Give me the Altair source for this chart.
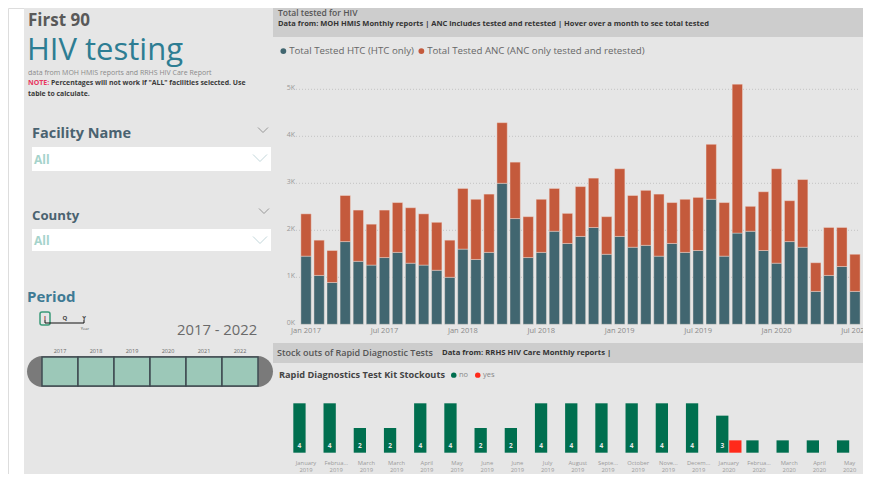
import altair as alt
import pandas as pd

FONT = "Open Sans"

# ---------------- data ----------------
months = ["2017-01", "2017-02", "2017-03", "2017-04", "2017-05", "2017-06", "2017-07", "2017-08",
          "2017-09", "2017-10", "2017-11", "2017-12", "2018-01", "2018-02", "2018-03", "2018-04",
          "2018-05", "2018-06", "2018-07", "2018-08", "2018-09", "2018-10", "2018-11", "2018-12",
          "2019-01", "2019-02", "2019-03", "2019-04", "2019-05", "2019-06", "2019-07", "2019-08",
          "2019-09", "2019-10", "2019-11", "2019-12", "2020-01", "2020-02", "2020-03", "2020-04",
          "2020-05", "2020-06", "2020-07"]
htc_tested = [1450, 1040, 890, 1760, 1340, 1260, 1420, 1530, 1300, 1260, 1150, 1000,
              1600, 1380, 1530, 3000, 2250, 1420, 1530, 1980, 1720, 1870, 2060, 1490,
              1870, 1640, 1680, 1450, 1720, 1530, 1570, 2660, 1450, 1940, 1980, 1570,
              1300, 1760, 1640, 700, 1040, 1230, 700]
anc_tested = [900, 750, 680, 980, 1090, 870, 1010, 1060, 1180, 1090, 1020, 790,
              1290, 1280, 1240, 1290, 1200, 870, 1130, 910, 640, 1060, 1050, 800,
              1440, 1100, 1170, 1320, 870, 1130, 1130, 1170, 1140, 3170, 530, 1250,
              2010, 870, 1440, 610, 1020, 830, 790]
series_names = ["Total Tested HTC (HTC only)", "Total Tested ANC (ANC only tested and retested)"]
y_ticks = [0, 1000, 2000, 3000, 4000, 5000]
y_tick_labels = ["0K", "1K", "2K", "3K", "4K", "5K"]
x_tick_months = ["2017-01", "2017-07", "2018-01", "2018-07", "2019-01", "2019-07", "2020-01", "2020-07"]
x_tick_labels = ["Jan 2017", "Jul 2017", "Jan 2018", "Jul 2018", "Jan 2019", "Jul 2019", "Jan 2020", "Jul 2020"]

stock_keys = ["Jan 2019", "Feb 2019", "Mar 2019 a", "Mar 2019 b", "Apr 2019", "May 2019",
              "Jun 2019 a", "Jun 2019 b", "Jul 2019", "Aug 2019", "Sep 2019", "Oct 2019",
              "Nov 2019", "Dec 2019", "Jan 2020", "Feb 2020", "Mar 2020", "Apr 2020", "May 2020"]
stock_line1 = ["January", "Februa...", "March", "March", "April", "May", "June", "June", "July",
               "August", "Septe...", "October", "Nove...", "Decem...", "January", "Februa...",
               "March", "April", "May"]
stock_line2 = ["2019", "2019", "2019", "2019", "2019", "2019", "2019", "2019", "2019", "2019",
               "2019", "2019", "2019", "2019", "2020", "2020", "2020", "2020", "2020"]
stock_no = [4, 4, 2, 2, 4, 4, 2, 2, 4, 4, 4, 4, 4, 4, 3, 1, 1, 1, 1]
stock_yes_keys = ["Jan 2020"]
stock_yes = [1]
stock_flags = ["no", "yes"]

period_years = ["2017", "2018", "2019", "2020", "2021", "2022"]

# ---------------- colours ----------------
TEAL = "#416670"
ORANGE = "#c45a3c"
GREEN = "#006f4f"
RED = "#ff2a1a"
BG = "#e6e6e6"
BAND = "#cdcdcd"

W, H = 855, 466


def P(v):
    return v - 8


one = pd.DataFrame({"k": [0]})


def txt(x, y, s, size, color, weight="normal", align="left", baseline="middle"):
    return alt.Chart(one).mark_text(
        text=s, fontSize=size, color=color, fontWeight=weight, align=align,
        baseline=baseline, font=FONT
    ).encode(x=alt.value(P(x)), y=alt.value(P(y)))


def box(x1, y1, x2, y2, fill, **kw):
    return alt.Chart(one).mark_rect(fill=fill, **kw).encode(
        x=alt.value(max(P(x1), 0)), x2=alt.value(min(P(x2), W)),
        y=alt.value(max(P(y1), 0)), y2=alt.value(min(P(y2), H)))


def chevron(x, y, w, color):
    return alt.Chart(one).mark_point(
        shape="M-1,-0.5L0,0.5L1,-0.5", filled=False, stroke=color, strokeWidth=1,
        size=w * w
    ).encode(x=alt.value(P(x)), y=alt.value(P(y)))


def hline(x1, x2, y, color, width=1):
    return alt.Chart(one).mark_rule(color=color, strokeWidth=width).encode(
        x=alt.value(P(x1)), x2=alt.value(P(x2)), y=alt.value(P(y)))


def vline(x, y1, y2, color, width=1):
    return alt.Chart(one).mark_rule(color=color, strokeWidth=width).encode(
        x=alt.value(P(x)), y=alt.value(P(y1)), y2=alt.value(P(y2)))


# ---------------- backgrounds ----------------
layers = [
    box(24, 0, 900, 600, BG),
    box(273, 0, 900, 37, BAND),
    box(273, 343, 900, 363, BAND),
]

# ---------------- left panel ----------------
layers += [
    txt(28, 21, "First 90", 17, "#595959", "bold"),
    txt(27, 50.5, "HIV testing", 31, "#2d7d93"),
    txt(28, 72.5, "data from MOH HMIS reports and RRHS HIV Care Report", 7, "#8a8a8a"),
    txt(28, 82.5, "NOTE:", 7, "#e8365f", "bold"),
    txt(51, 82.5, "Percentages will not work if \"ALL\" facilities selected. Use", 6.9, "#3a3a3a", "bold"),
    txt(28, 94, "table to calculate.", 6.9, "#3a3a3a", "bold"),
    txt(32, 134, "Facility Name", 14.5, "#4a6270", "bold"),
    chevron(263, 130, 10, "#777777"),
    box(32, 147, 271, 171, "#ffffff"),
    txt(34, 160, "All", 12, "#a5d3cb", "bold"),
    chevron(260, 158, 14, "#a9c6cc"),
    txt(32, 216, "County", 13.2, "#4a6270", "bold"),
    chevron(264, 211, 10, "#777777"),
    box(32, 229, 271, 251, "#ffffff"),
    txt(34, 241, "All", 12, "#a5d3cb", "bold"),
    chevron(260, 240, 14, "#a9c6cc"),
    txt(27, 297, "Period", 15, "#3e7a94", "bold"),
    box(40, 312, 50, 325, "#ffffff", fillOpacity=0, stroke="#3a9a78", strokeWidth=1.5, cornerRadius=2),
    txt(45, 318, "I", 6, "#8a3b3b", "bold", "center"),
    txt(65, 318, "Q", 6, "#444444", "bold", "center"),
    txt(84, 318, "Y", 6, "#444444", "bold", "center"),
    hline(45, 84, 323, "#111111"),
    vline(45, 320, 323, "#111111"),
    vline(84, 320, 323, "#111111"),
    txt(85, 329, "Year", 4, "#555555", "normal", "center"),
    txt(177, 331, "2017 - 2022", 14.8, "#6a6a6a"),
    box(27, 356, 273, 387, "#7a7a7a", cornerRadius=15.5),
]

df_years = pd.DataFrame({"year": period_years})
yx = alt.Scale(domain=period_years, range=[P(42), P(258)], paddingInner=0, paddingOuter=0)
year_boxes = alt.Chart(df_years).mark_bar(
    fill="#9cc8b8", stroke="#3f4b51", strokeWidth=1.5
).encode(x=alt.X("year:N", scale=yx, axis=None), y=alt.value(P(357)), y2=alt.value(P(386)))
year_text = alt.Chart(df_years).mark_text(fontSize=5.5, color="#666666", font=FONT).encode(
    x=alt.X("year:N", scale=yx, axis=None), y=alt.value(P(351)), text="year:N")
layers.append(alt.layer(year_boxes, year_text))

# ---------------- right panel : headers ----------------
layers += [
    txt(278, 12.5, "Total tested for HIV", 8.5, "#555555", 600),
    txt(278, 24, "Data from: MOH HMIS Monthly reports | ANC includes tested and retested | Hover over a month to see total tested",
        7.5, "#333333", "bold"),
    txt(277, 353, "Stock outs of Rapid Diagnostic Tests", 9, "#555555", 600),
    txt(442, 353, "Data from: RRHS HIV Care Monthly reports  |", 7.7, "#333333", "bold"),
]

# ---------------- main stacked bar chart ----------------
rows = []
for m, h, a in zip(months, htc_tested, anc_tested):
    rows.append({"month": m, "series": series_names[0], "value": h, "sidx": 0})
    rows.append({"month": m, "series": series_names[1], "value": a, "sidx": 1})
df_bars = pd.DataFrame(rows)
df_yt = pd.DataFrame({"v": y_ticks, "lab": y_tick_labels})
df_xt = pd.DataFrame({"month": x_tick_months, "lab": x_tick_labels})

xs = alt.Scale(domain=months, range=[P(299.5), P(861.5)], paddingInner=0.21, paddingOuter=0.105)
ys = alt.Scale(domain=[0, 5000], range=[P(324.3), P(89.3)], nice=False, zero=True)

grid = alt.Chart(df_yt).transform_filter("datum.v > 0").mark_rule(
    strokeDash=[1, 2], color="#c4c4c4", strokeWidth=1
).encode(y=alt.Y("v:Q", scale=ys, axis=None), x=alt.value(P(296)), x2=alt.value(P(858)))
bars = alt.Chart(df_bars).mark_bar(stroke="#f3e2dc", strokeWidth=0.6, strokeOpacity=0.7).encode(
    x=alt.X("month:O", scale=xs, axis=None),
    y=alt.Y("value:Q", stack="zero", scale=ys, axis=None),
    color=alt.Color("series:N", scale=alt.Scale(domain=series_names, range=[TEAL, ORANGE]),
                    legend=alt.Legend(title=None, orient="none", legendX=P(278.5), legendY=P(46),
                                      direction="horizontal", symbolType="circle", symbolSize=34,
                                      symbolStrokeWidth=0, labelFontSize=9.7, labelColor="#666666",
                                      labelFont=FONT, labelOffset=1, labelLimit=400,
                                      columnPadding=2, padding=0)),
    order=alt.Order("sidx:Q", sort="ascending"),
)
ylab = alt.Chart(df_yt).mark_text(align="right", fontSize=7, color="#999999", font=FONT, dy=-1).encode(
    y=alt.Y("v:Q", scale=ys, axis=None), x=alt.value(P(295)), text="lab:N")
xlab = alt.Chart(df_xt).mark_text(fontSize=7.5, color="#8a8a8a", font=FONT).encode(
    x=alt.X("month:O", scale=xs, axis=None), y=alt.value(P(330.5)), text="lab:N")
layers.append(alt.layer(grid, bars, ylab, xlab))

# ---------------- stockout chart ----------------
srows = [{"key": k, "flag": "no", "count": c} for k, c in zip(stock_keys, stock_no)]
srows += [{"key": k, "flag": "yes", "count": c} for k, c in zip(stock_yes_keys, stock_yes)]
df_stock = pd.DataFrame(srows)
df_cats = pd.DataFrame({"key": stock_keys, "l1": stock_line1, "l2": stock_line2})

sx = alt.Scale(domain=stock_keys, range=[P(290.9), P(864.7)], paddingInner=0.16, paddingOuter=0.08)
so = alt.Scale(domain=stock_flags, paddingInner=0.06, paddingOuter=0)
sy = alt.Scale(domain=[0, 4], range=[P(452.7), P(403.3)], nice=False)

sbars = alt.Chart(df_stock).mark_bar().encode(
    x=alt.X("key:N", scale=sx, axis=None),
    xOffset=alt.XOffset("flag:N", scale=so),
    y=alt.Y("count:Q", scale=sy, axis=None),
    color=alt.Color("flag:N", scale=alt.Scale(domain=stock_flags, range=[GREEN, RED]),
                    legend=alt.Legend(title="Rapid Diagnostics Test Kit Stockouts", titleOrient="left",
                                      titleFontSize=9.2, titleFontWeight="bold", titleColor="#444444",
                                      titleFont=FONT, titlePadding=5, titleLimit=400, orient="none",
                                      legendX=P(279), legendY=P(371), direction="horizontal",
                                      symbolType="circle", symbolSize=30, symbolStrokeWidth=0,
                                      labelFontSize=7.5, labelColor="#888888", labelFont=FONT,
                                      labelOffset=1.5, columnPadding=5, padding=0)),
)
svals = alt.Chart(df_stock).transform_filter("datum.count >= 2").mark_text(
    fontSize=6.5, color="#e8e8e8", font=FONT, fontWeight="bold"
).encode(
    x=alt.X("key:N", scale=sx, axis=None),
    xOffset=alt.XOffset("flag:N", scale=so),
    y=alt.value(P(446)),
    text="count:Q",
)
sl1 = alt.Chart(df_cats).mark_text(fontSize=5.8, color="#9a9a9a", font=FONT).encode(
    x=alt.X("key:N", scale=sx, axis=None), y=alt.value(P(463)), text="l1:N")
sl2 = alt.Chart(df_cats).mark_text(fontSize=5.8, color="#9a9a9a", font=FONT).encode(
    x=alt.X("key:N", scale=sx, axis=None), y=alt.value(P(470)), text="l2:N")
layers.append(alt.layer(sbars, svals, sl1, sl2))

chart = alt.layer(*layers).resolve_scale(
    x="independent", y="independent", color="independent"
).properties(
    width=W, height=H, padding=0, background="#ffffff",
    autosize=alt.AutoSizeParams(type="none"),
).configure_view(strokeWidth=0).configure(font=FONT)

chart.save("out.html", embed_options={"renderer": "svg", "actions": False})
